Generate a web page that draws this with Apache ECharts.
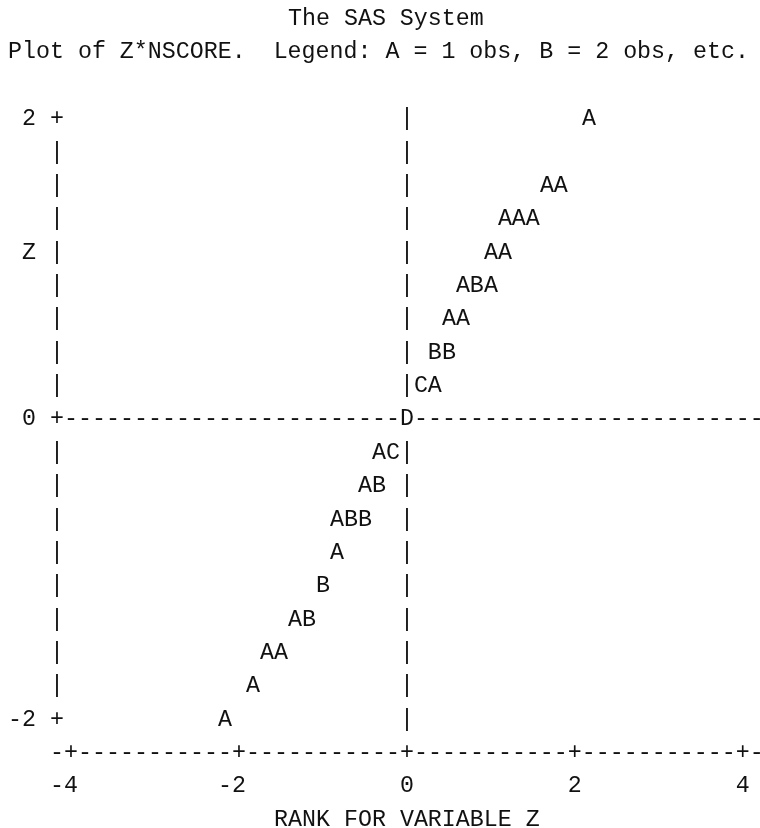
<!DOCTYPE html>
<html><head><meta charset="utf-8">
<script src="https://cdn.jsdelivr.net/npm/echarts@6/dist/echarts.min.js"></script>
<style>html,body{margin:0;padding:0;background:#fff}#chart{width:760px;height:828px}</style>
</head><body><div id="chart"></div>
<script>
// ---- data: one entry per printed cell (NSCORE, Z, number of obs in the cell)
const nscore = [2.167, 1.667, 1.833, 1.167, 1.333, 1.5, 1.0, 1.167, 0.667, 0.833, 1.0, 0.5, 0.667, 0.333, 0.5, 0.167, 0.333, 0, -0.333, -0.167, -0.5, -0.333, -0.833, -0.667, -0.5, -0.833, -1.0, -1.333, -1.167, -1.667, -1.5, -1.833, -2.167];
const zValues = [2, 1.556, 1.556, 1.333, 1.333, 1.333, 1.111, 1.111, 0.889, 0.889, 0.889, 0.667, 0.667, 0.444, 0.444, 0.222, 0.222, 0, -0.222, -0.222, -0.444, -0.444, -0.667, -0.667, -0.667, -0.889, -1.111, -1.333, -1.333, -1.556, -1.556, -1.778, -2];
const obsCounts = [1, 1, 1, 1, 1, 1, 1, 1, 1, 2, 1, 1, 1, 2, 2, 3, 1, 4, 1, 3, 1, 2, 1, 2, 2, 1, 2, 1, 2, 1, 1, 1, 1];
const legendLetters = ['A', 'B', 'C', 'D'];
const xTicks = [-4, -2, 0, 2, 4];
const yTicks = [-2, 0, 2];
const titleLine1 = 'The SAS System';
const titleLine2 = 'Plot of Z*NSCORE.  Legend: A = 1 obs, B = 2 obs, etc.';
const xAxisTitle = 'RANK FOR VARIABLE Z';
const yAxisTitle = 'Z';

// ---- layout (character cell of the line-printer plot, in axis units)
const X_MIN = -4, X_MAX = 4, Y_MIN = -2, Y_MAX = 2;
const COL = 1 / 6;   // one character column
const ROW = 2 / 9;   // one printed line
const FONT_FAMILY = '"Liberation Mono", "DejaVu Sans Mono", monospace';
const FONT_SIZE = 23.3;
const INK = '#111';

const pts = nscore.map((x, i) => [x, zValues[i], obsCounts[i]]);
const near = (a, b) => Math.abs(a - b) < 1e-3;
const occupied = (x, y) => pts.some(p => near(p[0], x) && near(p[1], y));

// frame glyphs: [x, y, text, align]
const frame = [];
const leftCol = X_MIN - COL;
const nRows = Math.round((Y_MAX - Y_MIN) / ROW);
const nCols = Math.round((X_MAX - X_MIN) / COL);
for (let i = 0; i <= nRows; i++) {
  const y = Y_MAX - i * ROW;
  const isTick = yTicks.some(t => near(t, y));
  frame.push([leftCol, y, isTick ? '+' : '|', 'center']);
  if (!occupied(0, y)) frame.push([0, y, '|', 'center']);
}
// horizontal reference line at Z = 0
for (let j = 0; j <= nCols + 1; j++) {
  const x = X_MIN + j * COL;
  if (!occupied(x, 0)) frame.push([x, 0, '-', 'center']);
}
// bottom axis line
const yAxisRow = Y_MIN - ROW;
for (let j = -1; j <= nCols + 1; j++) {
  const x = X_MIN + j * COL;
  const isTick = xTicks.some(t => near(t, x));
  frame.push([x, yAxisRow, isTick ? '+' : '-', 'center']);
}
// tick labels
xTicks.forEach(t => frame.push([t + COL / 2, Y_MIN - 2 * ROW, String(t), 'right']));
yTicks.forEach(t => frame.push([leftCol - 2 * COL + COL / 2, t, String(t), 'right']));
// axis titles
frame.push([0, Y_MIN - 3 * ROW, xAxisTitle, 'center']);
frame.push([leftCol - 2 * COL, Y_MAX - 4 * ROW, yAxisTitle, 'center']);

function textEl(api, x, y, text, align) {
  const p = api.coord([x, y]);
  return {
    type: 'text', x: p[0], y: p[1], silent: true,
    style: {
      text: text, fontSize: FONT_SIZE, fontFamily: FONT_FAMILY, fill: INK,
      align: align, verticalAlign: 'middle', textAlign: align, textVerticalAlign: 'middle'
    }
  };
}

const chart = echarts.init(document.getElementById('chart'), null, { renderer: 'canvas' });
const titleStyle = { fontFamily: FONT_FAMILY, fontSize: FONT_SIZE, fontWeight: 'normal', color: INK, lineHeight: 24 };
chart.setOption({
  animation: false,
  backgroundColor: '#fff',
  title: [
    { text: titleLine1, left: 288, top: 6.5, padding: 0, textStyle: titleStyle },
    { text: titleLine2, left: 8, top: 40, padding: 0, textStyle: titleStyle }
  ],
  grid: { left: 71, right: 17.2, top: 119, bottom: 108.4 },
  xAxis: { type: 'value', min: X_MIN, max: X_MAX, interval: 2, show: false },
  yAxis: { type: 'value', min: Y_MIN, max: Y_MAX, interval: 2, show: false },
  series: [
    {
      name: 'frame', type: 'custom', clip: false, silent: true,
      data: frame.map(f => [f[0], f[1]]),
      renderItem: (params, api) => {
        const f = frame[params.dataIndex];
        return textEl(api, f[0], f[1], f[2], f[3]);
      }
    },
    {
      name: 'Z*NSCORE', type: 'custom', clip: false, silent: true,
      data: pts,
      renderItem: (params, api) => {
        const x = api.value(0), y = api.value(1), n = api.value(2);
        return textEl(api, x, y, legendLetters[n - 1], 'center');
      }
    }
  ]
});
</script>
</body></html>
